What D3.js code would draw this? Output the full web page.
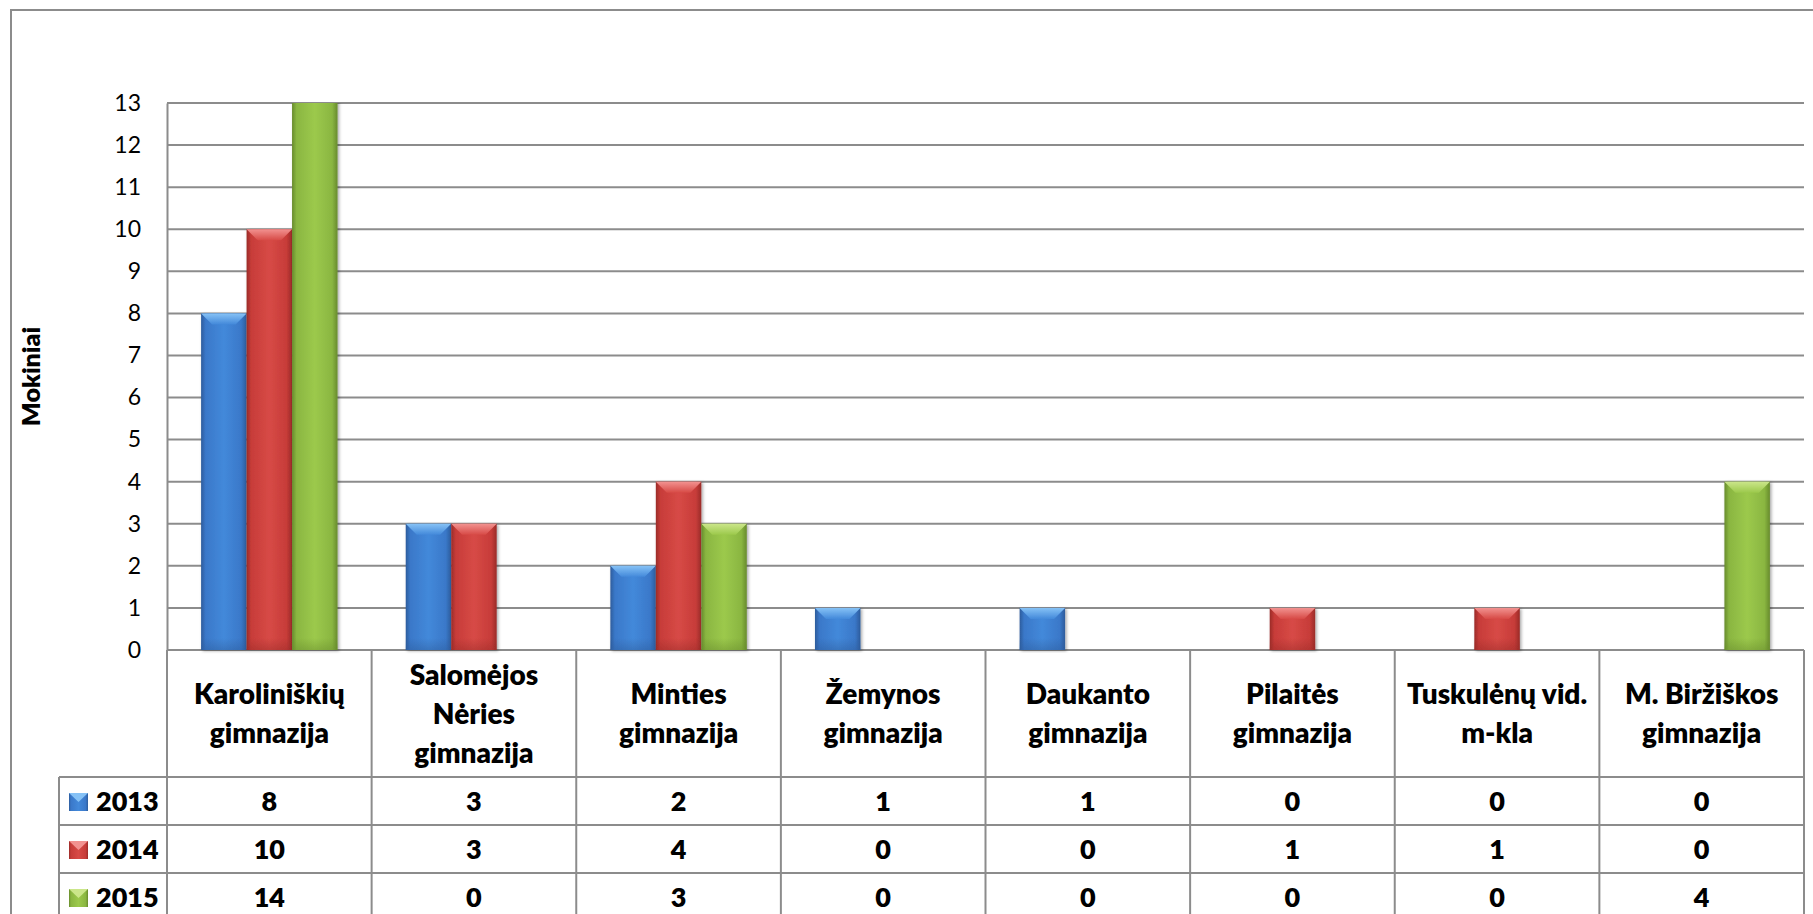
<!DOCTYPE html>
<html>
<head>
<meta charset="utf-8">
<script src="https://cdn.jsdelivr.net/npm/d3@7"></script>
<style>
    html, body { margin: 0; padding: 0; background: #ffffff; }
    svg { display: block; font-family: Lato, "Open Sans", sans-serif; }
</style>
</head>
<body>
<svg id="chart"></svg>
<script>
// categories (line breaks as in the table header)
const categories = [
    'Karoliniškių\ngimnazija',
    'Salomėjos\nNėries\ngimnazija',
    'Minties\ngimnazija',
    'Žemynos\ngimnazija',
    'Daukanto\ngimnazija',
    'Pilaitės\ngimnazija',
    'Tuskulėnų vid.\nm-kla',
    'M. Biržiškos\ngimnazija'
];
const years = [ '2013', '2014', '2015' ];
const values_2013 = [ 8, 3, 2, 1, 1, 0, 0, 0 ];
const values_2014 = [ 10, 3, 4, 0, 0, 1, 1, 0 ];
const values_2015 = [ 14, 0, 3, 0, 0, 0, 0, 4 ];
const y_ticks = [ 0, 1, 2, 3, 4, 5, 6, 7, 8, 9, 10, 11, 12, 13 ];
const y_title = 'Mokiniai';

class BarTableChart {
    constructor( config, data ){
        this.config = {
            parent: config.parent,
            width: config.width || 1813,
            height: config.height || 914,
            plot: config.plot,
            table: config.table,
            colors: config.colors
        };
        this.data = data;
        this.init();
    }

    init() {
        let self = this;
        let p = self.config.plot;

        self.svg = d3.select( self.config.parent )
            .attr( 'width', self.config.width )
            .attr( 'height', self.config.height );

        self.defs = self.svg.append( 'defs' );

        self.xscale = d3.scaleBand()
            .domain( self.data.categories )
            .range( [ p.left, p.right ] )
            .padding( 0 );

        // gap width 150% -> outer padding 0.75 of a bar on each side
        self.xsub = d3.scaleBand()
            .domain( self.data.years )
            .range( [ 0, self.xscale.bandwidth() ] )
            .paddingInner( 0 )
            .paddingOuter( 0.75 );

        self.yscale = d3.scaleLinear()
            .domain( [ 0, d3.max( self.data.y_ticks ) ] )
            .range( [ p.bottom, p.top ] );

        self.yaxis = d3.axisLeft( self.yscale )
            .tickValues( self.data.y_ticks )
            .tickSize( 0 )
            .tickPadding( 26 );

        self.defs.append( 'clipPath' )
            .attr( 'id', 'plot-clip' )
            .append( 'rect' )
            .attr( 'x', p.left - 5 )
            .attr( 'y', p.top )
            .attr( 'width', p.right - p.left + 10 )
            .attr( 'height', p.bottom - p.top + 6 );

        let shadow = self.defs.append( 'filter' )
            .attr( 'id', 'bar-shadow' )
            .attr( 'x', '-20%' ).attr( 'y', '-5%' )
            .attr( 'width', '140%' ).attr( 'height', '110%' );
        shadow.append( 'feDropShadow' )
            .attr( 'dx', 1.5 ).attr( 'dy', 1 )
            .attr( 'stdDeviation', 1.6 )
            .attr( 'flood-color', '#000' )
            .attr( 'flood-opacity', 0.35 );

        self.config.colors.forEach( ( c, i ) => {
            let body = self.defs.append( 'linearGradient' )
                .attr( 'id', `body-${i}` )
                .attr( 'x1', 0 ).attr( 'x2', 1 ).attr( 'y1', 0 ).attr( 'y2', 0 );
            body.append( 'stop' ).attr( 'offset', '0%' ).attr( 'stop-color', c.dark );
            body.append( 'stop' ).attr( 'offset', '10%' ).attr( 'stop-color', c.mid );
            body.append( 'stop' ).attr( 'offset', '50%' ).attr( 'stop-color', c.light );
            body.append( 'stop' ).attr( 'offset', '88%' ).attr( 'stop-color', c.mid );
            body.append( 'stop' ).attr( 'offset', '100%' ).attr( 'stop-color', c.dark );

            let top = self.defs.append( 'linearGradient' )
                .attr( 'id', `top-${i}` )
                .attr( 'x1', 0 ).attr( 'x2', 0 ).attr( 'y1', 0 ).attr( 'y2', 1 );
            top.append( 'stop' ).attr( 'offset', '0%' ).attr( 'stop-color', c.bevel );
            top.append( 'stop' ).attr( 'offset', '100%' ).attr( 'stop-color', c.light );

            let base = self.defs.append( 'linearGradient' )
                .attr( 'id', `base-${i}` )
                .attr( 'x1', 0 ).attr( 'x2', 0 ).attr( 'y1', 0 ).attr( 'y2', 1 );
            base.append( 'stop' ).attr( 'offset', '0%' ).attr( 'stop-color', c.dark ).attr( 'stop-opacity', 0 );
            base.append( 'stop' ).attr( 'offset', '100%' ).attr( 'stop-color', c.dark ).attr( 'stop-opacity', 0.45 );
        } );
    }

    update() {
        let self = this;
        self.series = self.data.years.map( ( y, i ) => ( {
            year: y,
            index: i,
            values: self.data.series[i].map( ( v, j ) => ( { category: self.data.categories[j], value: v } ) )
        } ) );
        self.render();
    }

    render() {
        let self = this;
        let p = self.config.plot;
        let t = self.config.table;

        // outer frame
        self.svg.append( 'rect' )
            .attr( 'x', 11 ).attr( 'y', 10 )
            .attr( 'width', self.config.width ).attr( 'height', self.config.height )
            .attr( 'fill', 'none' )
            .attr( 'stroke', '#8c8c8c' )
            .attr( 'stroke-width', 2 );

        // gridlines
        self.svg.append( 'g' )
            .selectAll( 'line' )
            .data( self.data.y_ticks )
            .join( 'line' )
            .attr( 'x1', p.left ).attr( 'x2', p.right )
            .attr( 'y1', d => self.yscale( d ) ).attr( 'y2', d => self.yscale( d ) )
            .attr( 'stroke', '#8c8c8c' )
            .attr( 'stroke-width', 2 );

        // y axis
        let yg = self.svg.append( 'g' )
            .attr( 'transform', `translate(${p.left}, 0)` )
            .call( self.yaxis );
        yg.select( '.domain' )
            .attr( 'stroke', '#8c8c8c' )
            .attr( 'stroke-width', 2 );
        yg.selectAll( 'text' )
            .attr( 'font-family', 'Lato, sans-serif' )
            .attr( 'font-size', 23 )
            .attr( 'fill', '#000' );

        self.svg.append( 'text' )
            .attr( 'transform', `translate(40, ${( p.top + p.bottom ) / 2}) rotate(-90)` )
            .attr( 'text-anchor', 'middle' )
            .attr( 'font-weight', t.weight )
            .attr( 'font-size', 25 )
            .text( self.data.y_title );

        // bars
        let bars = self.svg.append( 'g' )
            .attr( 'clip-path', 'url(#plot-clip)' );

        let groups = bars.selectAll( 'g.series' )
            .data( self.series )
            .join( 'g' )
            .attr( 'class', 'series' );

        let bar = groups.selectAll( 'g.bar' )
            .data( s => s.values.filter( d => d.value > 0 ).map( d => Object.assign( { index: s.index, year: s.year }, d ) ) )
            .join( 'g' )
            .attr( 'class', 'bar' )
            .attr( 'filter', 'url(#bar-shadow)' );

        let bx = d => self.xscale( d.category ) + self.xsub( d.year );
        let bw = self.xsub.bandwidth();
        let by = d => self.yscale( d.value );

        bar.append( 'rect' )
            .attr( 'x', bx )
            .attr( 'y', by )
            .attr( 'width', bw )
            .attr( 'height', d => p.bottom - by( d ) )
            .attr( 'fill', d => `url(#body-${d.index})` );

        bar.append( 'path' )
            .attr( 'd', d => {
                let x = bx( d ), y = by( d ), h = p.bottom - y;
                let b = Math.min( 11, h / 2 );
                return `M${x},${y}L${x + bw},${y}L${x + bw - b},${y + b}L${x + b},${y + b}Z`;
            } )
            .attr( 'fill', d => `url(#top-${d.index})` );

        bar.append( 'rect' )
            .attr( 'x', bx )
            .attr( 'y', p.bottom - 12 )
            .attr( 'width', bw )
            .attr( 'height', 12 )
            .attr( 'fill', d => `url(#base-${d.index})` );

        // data table
        let table = self.svg.append( 'g' );
        let line_color = '#8c8c8c';
        let row_lines = [ t.header_bottom ].concat( t.rows.map( r => r + t.row_height ) );

        table.selectAll( 'line.h' )
            .data( row_lines )
            .join( 'line' )
            .attr( 'class', 'h' )
            .attr( 'x1', t.key_left ).attr( 'x2', p.right )
            .attr( 'y1', d => d ).attr( 'y2', d => d )
            .attr( 'stroke', line_color ).attr( 'stroke-width', 2 );

        let col_edges = self.data.categories.map( c => self.xscale( c ) ).concat( [ p.right ] );
        table.selectAll( 'line.v' )
            .data( col_edges )
            .join( 'line' )
            .attr( 'class', 'v' )
            .attr( 'x1', d => d ).attr( 'x2', d => d )
            .attr( 'y1', p.bottom ).attr( 'y2', self.config.height )
            .attr( 'stroke', line_color ).attr( 'stroke-width', 2 );

        table.append( 'line' )
            .attr( 'x1', t.key_left ).attr( 'x2', t.key_left )
            .attr( 'y1', t.header_bottom ).attr( 'y2', self.config.height )
            .attr( 'stroke', line_color ).attr( 'stroke-width', 2 );

        // category headers
        let header_mid = ( p.bottom + t.header_bottom ) / 2;
        let headers = table.selectAll( 'text.cat' )
            .data( self.data.categories )
            .join( 'text' )
            .attr( 'class', 'cat' )
            .attr( 'text-anchor', 'middle' )
            .attr( 'font-weight', t.weight )
            .attr( 'font-size', t.header_size );
        headers.each( function( d ) {
            let lines = d.split( '\n' );
            let x = self.xscale( d ) + self.xscale.bandwidth() / 2;
            let y0 = header_mid - ( lines.length - 1 ) * t.line_height / 2 + 10;
            d3.select( this ).selectAll( 'tspan' )
                .data( lines )
                .join( 'tspan' )
                .attr( 'x', x )
                .attr( 'y', ( l, i ) => y0 + i * t.line_height )
                .text( l => l );
        } );

        // rows: legend key + values
        self.series.forEach( ( s, i ) => {
            let top = t.rows[i];
            let base = top + t.row_height / 2 + 10;
            let c = self.config.colors[i];
            let kx = 69, ky = base - 18, ks = 19;

            table.append( 'rect' )
                .attr( 'x', kx ).attr( 'y', ky )
                .attr( 'width', ks ).attr( 'height', 18 )
                .attr( 'fill', `url(#body-${i})` );
            table.append( 'path' )
                .attr( 'd', `M${kx},${ky}L${kx + ks},${ky}L${kx + ks / 2},${ky + 9}Z` )
                .attr( 'fill', c.bevel );

            table.append( 'text' )
                .attr( 'x', 96 )
                .attr( 'y', base )
                .attr( 'font-weight', t.weight )
                .attr( 'font-size', t.font_size )
                .text( s.year );

            table.selectAll( `text.v${i}` )
                .data( s.values )
                .join( 'text' )
                .attr( 'class', `v${i}` )
                .attr( 'x', d => self.xscale( d.category ) + self.xscale.bandwidth() / 2 )
                .attr( 'y', base )
                .attr( 'text-anchor', 'middle' )
                .attr( 'font-weight', t.weight )
                .attr( 'font-size', t.font_size )
                .text( d => d.value );
        } );
    }
}

let chart = new BarTableChart( {
    parent: '#chart',
    width: 1813,
    height: 914,
    plot: { left: 167, right: 1804, top: 103, bottom: 650 },
    table: { header_bottom: 777, rows: [ 777, 825, 873 ], row_height: 48, key_left: 59, line_height: 39, font_size: 27, header_size: 28, weight: 800 },
    colors: [
        { dark: '#2d5c9c', mid: '#3a78c9', light: '#4389da', bevel: '#86c2f6' },
        { dark: '#9a2b28', mid: '#c73c39', light: '#d74a46', bevel: '#f29290' },
        { dark: '#678b2c', mid: '#8ab641', light: '#9cc94c', bevel: '#cbe68a' }
    ]
}, {
    categories: categories,
    years: years,
    series: [ values_2013, values_2014, values_2015 ],
    y_ticks: y_ticks,
    y_title: y_title
} );
chart.update();
</script>
</body>
</html>
